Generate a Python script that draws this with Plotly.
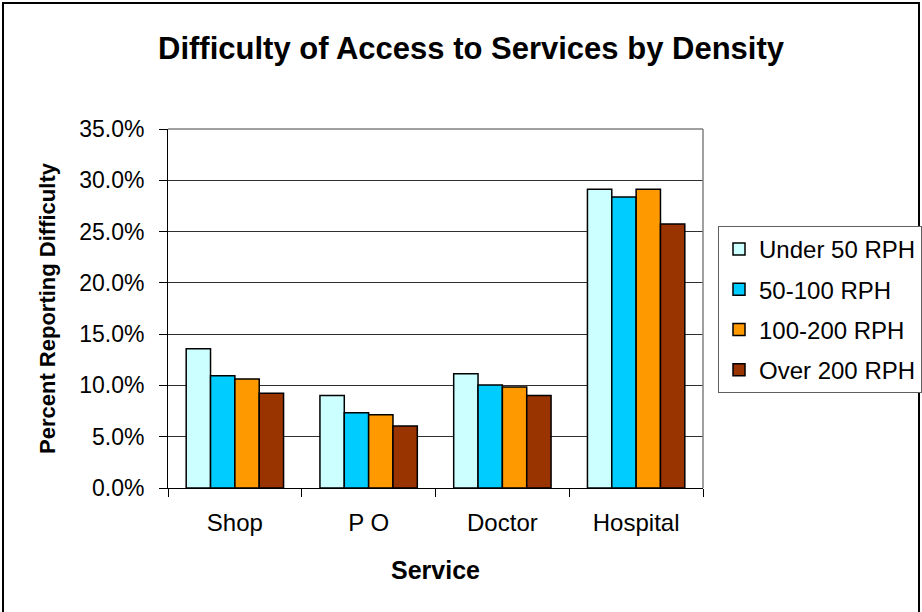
import plotly.graph_objects as go

# Share of respondents reporting difficulty, by service and housing density
services = ["Shop", "P O", "Doctor", "Hospital"]
under_50 = [0.1358, 0.0903, 0.1115, 0.2912]
from_50_to_100 = [0.1095, 0.0734, 0.1004, 0.2837]
from_100_to_200 = [0.1063, 0.0715, 0.0985, 0.2912]
over_200 = [0.0923, 0.0604, 0.0903, 0.2574]

series_names = ["Under 50 RPH", "50-100 RPH", "100-200 RPH", "Over 200 RPH"]
series_values = [under_50, from_50_to_100, from_100_to_200, over_200]
series_colors = ["#CCFFFF", "#00CCFF", "#FF9900", "#993300"]

y_ticks = [0, 0.05, 0.10, 0.15, 0.20, 0.25, 0.30, 0.35]

FONT = "Liberation Sans, Arial, sans-serif"

fig = go.Figure()
for name, vals, col in zip(series_names, series_values, series_colors):
    fig.add_trace(go.Bar(
        name=name, x=services, y=vals, legendgroup=name,
        marker=dict(color=col, line=dict(color="black", width=1.5)),
    ))

# page geometry (pixels)
W, H = 922, 612
L, R, T, B = 168, 703, 129, 488
pw, ph = R - L, B - T

def px(x):
    return (x - L) / pw

def py(y):
    return (B - y) / ph

fig.update_layout(
    width=W, height=H,
    margin=dict(l=L, r=W - R, t=T, b=H - B, pad=0, autoexpand=False),
    paper_bgcolor="white", plot_bgcolor="white",
    font=dict(family=FONT, size=22, color="black"),
    barmode="group", bargap=0.272, bargroupgap=0,
    title=dict(text="<b>Difficulty of Access to Services by Density</b>",
               x=471 / W, xref="container", xanchor="center",
               y=1 - 48 / H, yref="container", yanchor="middle",
               font=dict(size=31, family=FONT, color="black")),
    xaxis=dict(
        type="category", tickson="boundaries", ticks="outside", ticklen=8,
        tickcolor="black", showline=True, linecolor="black", linewidth=1,
        showgrid=False, tickfont=dict(size=24), ticklabelstandoff=13,
        title=dict(text="<b>Service</b>", font=dict(size=25), standoff=26),
    ),
    yaxis=dict(
        range=[0, 0.35], tickvals=y_ticks, tickformat=".1%",
        ticks="outside", ticklen=8, tickcolor="black",
        showline=True, linecolor="black", linewidth=1,
        showgrid=True, gridcolor="#303030", gridwidth=1,
        zeroline=False, tickfont=dict(size=23), ticklabelstandoff=10,
        title=dict(text="<b>Percent Reporting Difficulty</b>",
                   font=dict(size=22), standoff=17),
    ),
    legend=dict(
        x=px(718), y=py(226), xanchor="left", yanchor="top",
        bordercolor="#606060", borderwidth=1, bgcolor="white",
        font=dict(size=24), tracegroupgap=6, itemwidth=30,
        traceorder="grouped",
    ),
    showlegend=True,
    shapes=[
        # plot-area frame (top and right edges)
        dict(type="line", xref="paper", yref="paper", x0=0, x1=1, y0=1, y1=1,
             line=dict(color="#808080", width=1.5)),
        dict(type="line", xref="paper", yref="paper", x0=1, x1=1, y0=0, y1=1,
             line=dict(color="#808080", width=1.5)),
        # outer chart frame
        dict(type="rect", xref="paper", yref="paper",
             x0=px(3), x1=px(919), y0=py(3), y1=py(640),
             line=dict(color="black", width=2), layer="above"),
    ],
)

fig.write_html("out.html")
